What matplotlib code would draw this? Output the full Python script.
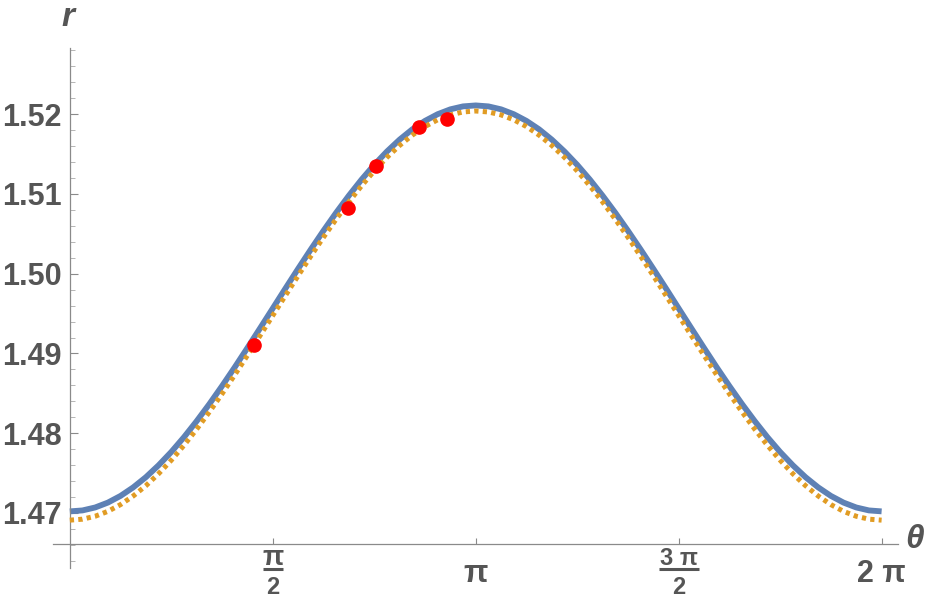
import numpy as np
import matplotlib
matplotlib.use("Agg")
import matplotlib.pyplot as plt

# readings taken every pi/32 from 0 to pi (curves are symmetric about pi)
theta = np.linspace(0, 2 * np.pi, 65)
r_blue_half = [1.47020, 1.47032, 1.47069, 1.47130, 1.47214, 1.47321, 1.47449, 1.47598,
               1.47765, 1.47950, 1.48151, 1.48365, 1.48591, 1.48826, 1.49069, 1.49316,
               1.49565, 1.49815, 1.50062, 1.50304, 1.50539, 1.50765, 1.50979, 1.51180,
               1.51365, 1.51532, 1.51681, 1.51810, 1.51916, 1.52000, 1.52061, 1.52098,
               1.52110]
r_orange_half = [1.46910, 1.46922, 1.46959, 1.47020, 1.47105, 1.47213, 1.47342, 1.47492,
                 1.47661, 1.47848, 1.48050, 1.48266, 1.48493, 1.48730, 1.48975, 1.49224,
                 1.49475, 1.49726, 1.49975, 1.50220, 1.50457, 1.50684, 1.50900, 1.51102,
                 1.51289, 1.51458, 1.51608, 1.51737, 1.51845, 1.51930, 1.51991, 1.52028,
                 1.52040]
r_blue = r_blue_half + r_blue_half[-2::-1]
r_orange = r_orange_half + r_orange_half[-2::-1]

# measured points
pts_theta = [1.424, 2.151, 2.368, 2.700, 2.917]
pts_r = [1.4910, 1.5082, 1.5135, 1.5184, 1.5194]

y_ticks = [1.47, 1.48, 1.49, 1.50, 1.51, 1.52]
y_labels = ["1.47", "1.48", "1.49", "1.50", "1.51", "1.52"]

grey = "#555555"
axis_grey = "#8a8a8a"
font = "Liberation Sans"

fig = plt.figure(figsize=(9.28, 6.07), dpi=100)
ax = fig.add_axes([53 / 928, 39 / 607, 845 / 928, 520 / 607])

ax.plot(theta, r_blue, color="#5E81B5", lw=4.2, solid_capstyle="butt", zorder=2)
ax.plot(theta, r_orange, color="#E19C24", lw=3.6, dashes=(0.85, 0.85),
        dash_capstyle="butt", zorder=3)
ax.plot(pts_theta, pts_r, "o", color="red", ms=9.5, zorder=4)

ax.set_xlim(-0.13, 6.41)
ax.set_ylim(1.4631, 1.5283)

for s in ["top", "right"]:
    ax.spines[s].set_visible(False)
ax.spines["left"].set_position(("data", 0))
ax.spines["bottom"].set_position(("data", 1.4661))
for s in ["left", "bottom"]:
    ax.spines[s].set_color(axis_grey)
    ax.spines[s].set_linewidth(0.9)

ax.set_yticks(y_ticks)
ax.set_yticklabels(y_labels)
ax.set_yticks(np.arange(1.464, 1.5281, 0.002), minor=True)
ax.tick_params(axis="y", which="major", direction="in", length=6, width=0.8,
               color=axis_grey, pad=6, labelsize=22, labelcolor=grey)
ax.tick_params(axis="y", which="minor", direction="in", length=3.5, width=0.6,
               color="#aaaaaa")
for lab in ax.get_yticklabels():
    lab.set_fontfamily(font)
    lab.set_fontweight("bold")

ax.set_xticks([np.pi / 2, np.pi, 3 * np.pi / 2, 2 * np.pi])
ax.set_xticklabels([])
ax.tick_params(axis="x", which="major", direction="in", length=4, width=0.8,
               color=axis_grey)

kw = dict(color=grey, fontfamily=font, fontweight="bold", ha="center", va="center",
          clip_on=False)
# pi/2
ax.text(np.pi / 2, 1.46435, "π", fontsize=20, **kw)
ax.plot([np.pi / 2 - 0.078, np.pi / 2 + 0.078], [1.46296, 1.46296], color=grey, lw=2.2,
        clip_on=False, solid_capstyle="butt")
ax.text(np.pi / 2, 1.46070, "2", fontsize=17, **kw)
# pi
ax.text(np.pi, 1.46234, "π", fontsize=23, **kw)
# 3pi/2
ax.text(3 * np.pi / 2, 1.46435, "3 π", fontsize=17, **kw)
ax.plot([3 * np.pi / 2 - 0.155, 3 * np.pi / 2 + 0.155], [1.46296, 1.46296], color=grey,
        lw=2.2, clip_on=False, solid_capstyle="butt")
ax.text(3 * np.pi / 2, 1.46070, "2", fontsize=17, **kw)
# 2pi
ax.text(2 * np.pi, 1.46234, "2 π", fontsize=22, **kw)

# axis labels
fig.text(68 / 928, 1 - 18 / 607, "r", fontsize=24, color=grey, fontfamily=font,
         fontweight="bold", fontstyle="italic", ha="center", va="center")
fig.text(915 / 928, 1 - 540 / 607, "θ", fontsize=24, color=grey, fontfamily=font,
         fontweight="bold", fontstyle="italic", ha="center", va="center")

fig.savefig("out.png", dpi=100)
